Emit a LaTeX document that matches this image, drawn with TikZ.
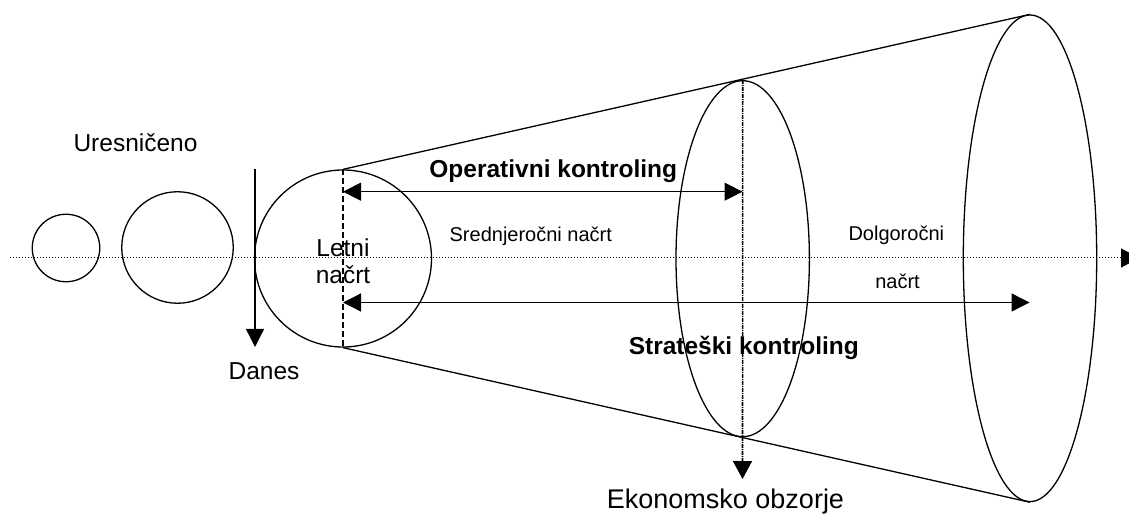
\documentclass[tikz,border=0pt]{standalone}
\usepackage{fontspec}
\setmainfont{Liberation Sans}
\usetikzlibrary{arrows.meta,shapes.geometric}
\begin{document}
\begin{tikzpicture}[x=1pt,y=-1pt,
  line width=1.3pt,
  tip/.style={-{Triangle[length=18pt,width=18pt]}},
  both/.style={{Triangle[length=18pt,width=18pt]}-{Triangle[length=18pt,width=18pt]}},
  ring/.style={draw,circle,inner sep=0pt},
  oval/.style={draw,ellipse,inner sep=0pt},
  big/.style={font=\fontsize{24.5}{27}\selectfont},
  small/.style={font=\fontsize{20}{22}\selectfont},
  bold/.style={font=\fontsize{24.5}{27}\selectfont\bfseries},
  axisline/.style={line width=1pt,dash pattern=on 1pt off 2pt},
  cutline/.style={dash pattern=on 6pt off 3pt},
  horizon/.style={line width=1.6pt,dash pattern=on 4pt off 1pt on 1pt off 1pt}]
\useasboundingbox (0,0) rectangle (1129,518);

% time axis
\coordinate (axL) at (10,258);
\coordinate (axR) at (1140,258);
\draw[axisline] (axL) -- (axR);
\fill (1121,248.3) -- (1139,258) -- (1121,267.7) -- cycle;

% past periods
\node[ring,minimum size=67.5pt] (past1) at (66,248) {};
\node[ring,minimum size=111.5pt] (past2) at (177.5,247.5) {};

% today marker
\coordinate (todayT) at (255,169);
\coordinate (todayB) at (255,347);
\draw[tip] (todayT) -- (todayB);

% planning horizons
\node[ring,minimum size=177pt] (year) at (343,258.5) {};
\node[oval,minimum width=133.4pt,minimum height=356pt] (mid) at (742.7,258.7) {};
\node[oval,minimum width=133.4pt,minimum height=486.6pt] (far) at (1030,258.3) {};

% cone outline
\draw (year.north) -- (far.north);
\draw (year.south) -- (far.south);

% year plan section
\draw[cutline] (year.north) -- (year.south);

% economic horizon
\coordinate (horizB) at (742.5,479);
\draw[horizon,-{Triangle[length=18pt,width=19pt]}] (mid.north) -- (horizB);

% controlling ranges
\coordinate (opL) at (343,191.7);
\coordinate (opR) at (742.5,191.7);
\draw[both] (opL) -- (opR);
\coordinate (stL) at (343,302.5);
\coordinate (stR) at (1029.5,302.5);
\draw[both] (stL) -- (stR);

% labels
\node[big] (lblDone) at (135.5,142.7) {Uresničeno};
\node[big] (lblToday) at (264,371.5) {Danes};
\node[big,align=center] (lblYear) at (343,261.5) {Letni\\načrt};
\node[bold] (lblOp) at (553.3,171.7) {Operativni kontroling};
\node[small] (lblMid) at (530.8,236) {Srednjeročni načrt};
\node[small] (lblLong1) at (896.3,235) {Dolgoročni};
\node[small,fill=white,minimum width=88pt,inner ysep=4pt] (lblLong2) at (897.5,281) {načrt};
\node[bold] (lblSt) at (743.8,348.3) {Strateški kontroling};
\node[font=\fontsize{27}{30}\selectfont] (lblHor) at (725.5,501.7) {Ekonomsko obzorje};
\end{tikzpicture}
\end{document}
